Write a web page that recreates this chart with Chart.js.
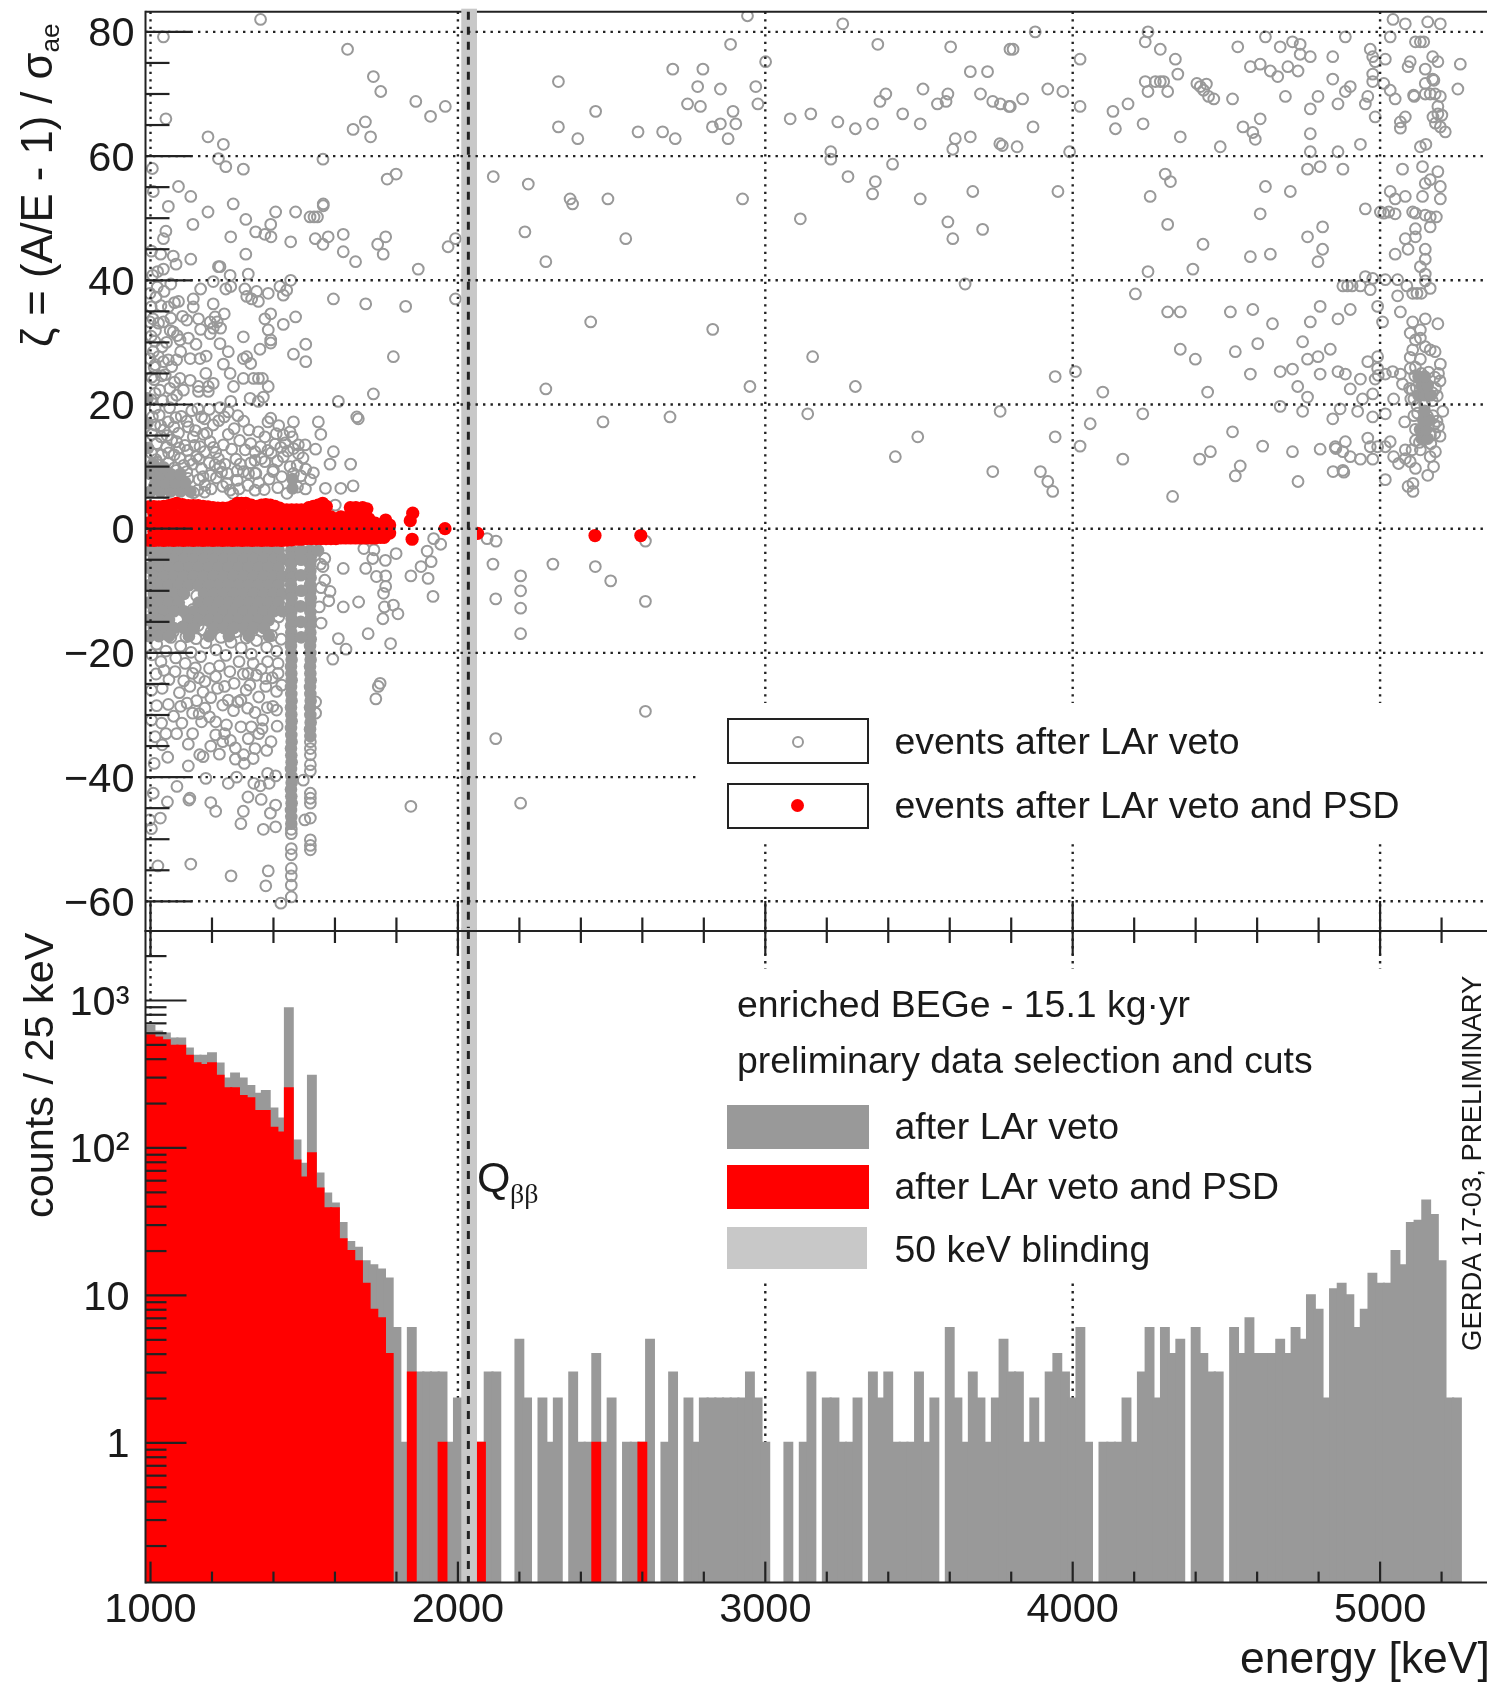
<!DOCTYPE html>
<html>
<head>
<meta charset="utf-8">
<title>GERDA A/E vs energy</title>
<script src="https://cdn.jsdelivr.net/npm/chart.js@4"></script>
<style>
  html, body { margin: 0; padding: 0; background: #fff; }
  #page { position: relative; width: 1487px; height: 1684px; overflow: hidden; font-family: "Liberation Sans", sans-serif; color: #1a1a1a; filter: blur(0.4px); }
  canvas { position: absolute; left: 0; display: block; }
  #topChart { top: 0; }
  #bottomChart { top: 925px; }
  .t { position: absolute; white-space: nowrap; line-height: 1; font-size: 37.4px; }
  .rot { transform-origin: 0 0; transform: rotate(-90deg); }
  .box { position: absolute; box-sizing: border-box; border: 2px solid #222; left: 727px; width: 142px; height: 46px; }
  .swatch { position: absolute; left: 727px; }
  .ring { position: absolute; box-sizing: border-box; width: 12px; height: 12px; border: 2px solid #999; border-radius: 50%; left: 792px; }
  .dot { position: absolute; width: 13px; height: 13px; background: #f00; border-radius: 50%; left: 791px; }
  sub { font-size: 0.6em; line-height: 0; vertical-align: -0.28em; }
</style>
</head>
<body>
<div id="page">
  <canvas id="topChart" width="1487" height="940"></canvas>
  <canvas id="bottomChart" width="1487" height="759"></canvas>

  <div class="t rot" style="left:15.5px;top:347px;font-size:43.6px">ζ = (A/E - 1) / σ<sub>ae</sub></div>
  <div class="t rot" style="left:19px;top:1218px;font-size:41.4px">counts / 25 keV</div>
  <div class="t" style="left:1240px;top:1636px;font-size:44.5px">energy [keV]</div>
  <div class="t rot" style="left:1458px;top:1351px;font-size:27.5px">GERDA 17-03, PRELIMINARY</div>

  <div class="box" style="top:718px"></div>
  <div class="ring" style="top:735.5px"></div>
  <div class="t" style="left:894.5px;top:722.5px">events after LAr veto</div>
  <div class="box" style="top:783px"></div>
  <div class="dot" style="top:799px"></div>
  <div class="t" style="left:894.5px;top:787px">events after LAr veto and PSD</div>

  <div class="t" style="left:737px;top:985.5px">enriched BEGe - 15.1 kg·yr</div>
  <div class="t" style="left:737px;top:1042px">preliminary data selection and cuts</div>
  <div class="swatch" style="top:1105px;width:142px;height:44px;background:#999"></div>
  <div class="t" style="left:894.5px;top:1107.5px">after LAr veto</div>
  <div class="swatch" style="top:1165px;width:142px;height:44px;background:#f00"></div>
  <div class="t" style="left:894.5px;top:1167.5px">after LAr veto and PSD</div>
  <div class="swatch" style="top:1227px;width:140px;height:42px;background:#c8c8c8"></div>
  <div class="t" style="left:894.5px;top:1230.5px">50 keV blinding</div>

  <div class="t" style="left:477px;top:1156px;font-size:43px">Q</div>
  <div class="t" style="left:510px;top:1180px;font-size:28px;font-family:'Liberation Serif',serif">ββ</div>
</div>

<script>
// axis ranges
const xMin = 983.7;
const xMax = 5347.8;
const zetaMin = -64.78;
const zetaMax = 83.25;
const countMin = 0.113;
const countMax = 2959;

// ticks
const energyMajor = [1000, 2000, 3000, 4000, 5000];
const energyMinor = [1200, 1400, 1600, 1800, 2200, 2400, 2600, 2800, 3200, 3400, 3600, 3800, 4200, 4400, 4600, 4800, 5200];
const zetaMajor = [80, 60, 40, 20, 0, -20, -40, -60];
const zetaMinor = [75, 70, 65, 55, 50, 45, 35, 30, 25, 15, 10, 5, -5, -10, -15, -25, -30, -35, -45, -50, -55];
const countMajor = [1, 10, 100, 1000];
const countMinor = [0.2, 0.3, 0.4, 0.5, 0.6, 0.7, 0.8, 0.9, 2, 3, 4, 5, 6, 7, 8, 9, 20, 30, 40, 50, 60, 70, 80, 90, 200, 300, 400, 500, 600, 700, 800, 900, 2000];
const countLabels = { 1: "1", 10: "10", 100: "10²", 1000: "10³" };

// blinded window and Q value
const blindLow = 2011;
const blindHigh = 2062;
const qValue = 2034;

// histogram, 25 keV bins, first bin centred on 1000 keV
const firstBin = 1000;
const binWidth = 25;
const countsLAr = [
  671, 615, 596, 551, 551, 471, 421, 421, 438, 373,
  295, 319, 295, 263, 233, 243, 185, 158, 885, 112,
  78, 308, 67, 49, 42, 31, 23, 21, 17, 16,
  15, 13, 6, 1, 6, 3, 3, 3, 3, 1,
  2, 0, 0, 1, 3, 3, 0, 0, 5, 2,
  0, 2, 1, 2, 0, 3, 1, 1, 4, 1,
  2, 0, 1, 1, 1, 5, 0, 1, 3, 0,
  2, 1, 2, 2, 2, 2, 2, 2, 3, 2,
  1, 0, 0, 1, 0, 1, 3, 0, 2, 2,
  1, 1, 2, 0, 3, 2, 3, 1, 1, 1,
  3, 1, 2, 0, 6, 2, 1, 3, 2, 1,
  2, 5, 3, 3, 1, 2, 1, 3, 4, 3,
  2, 6, 1, 0, 1, 1, 1, 2, 1, 3,
  6, 2, 6, 4, 5, 0, 6, 4, 3, 3,
  0, 6, 4, 7, 4, 4, 4, 5, 4, 6,
  5, 10, 8, 2, 11, 12, 10, 6, 8, 14,
  12, 12, 20, 16, 31, 32, 44, 35, 17, 2,
  2
];
const countsPSD = [
  580, 560, 537, 492, 492, 421, 375, 365, 375, 308,
  254, 254, 225, 217, 178, 178, 137, 127, 254, 82,
  63, 92, 53, 39, 39, 24, 20, 17, 12, 8,
  7, 4, 0, 0, 3, 0, 0, 0, 1, 0,
  0, 0, 0, 1, 0, 0, 0, 0, 0, 0,
  0, 0, 0, 0, 0, 0, 0, 0, 1, 0,
  0, 0, 0, 0, 1
];

// [energy, zeta] of the events after LAr veto
const vetoEvents = [
  [1358,82.0],[1042,79.2],[1641,77.2],[1725,72.8],[1749,70.4],[1863,68.8],[1959,68.0],[1911,66.4],[1699,65.5],[1659,64.3],
  [1716,63.1],[1050,66.0],[1187,63.1],[1237,61.9],[1221,59.6],[1245,58.3],[1302,57.9],[1561,59.5],[1799,57.1],[1770,56.3],
  [2115,56.7],[2229,55.5],[1091,55.1],[1009,54.3],[1131,53.5],[1058,51.9],[1269,52.3],[1187,51.0],[1407,51.0],[1472,51.0],
  [1562,52.3],[1562,52.0],[1519,50.2],[1532,50.2],[1543,50.2],[1310,49.8],[1138,49.0],[1391,49.0],[1342,47.8],[1372,47.4],
  [1392,47.0],[1050,47.9],[1042,46.7],[1261,47.0],[1456,46.2],[1536,46.7],[1578,47.0],[1561,45.8],[1627,47.4],[1627,44.6],
  [1667,43.0],[1739,45.8],[1765,47.0],[1757,44.2],[1992,46.7],[1968,45.4],[1871,41.8],[2218,47.8],[1310,44.2],[1033,44.2],
  [1074,43.9],[1083,42.6],[1131,43.4],[1042,41.8],[1226,42.2],[1221,42.2],[1318,41.0],[1259,40.8],[1204,39.8],[1066,39.4],
  [1163,38.6],[1245,38.6],[1261,39.0],[1307,38.6],[1456,40.0],[1421,39.0],[1443,38.4],[1432,37.6],[1383,37.9],[1345,38.2],
  [1313,37.4],[1329,37.0],[1351,36.6],[998,37.9],[1091,36.6],[1139,37.0],[1139,35.7],[1058,35.7],[1204,36.2],[1595,37.0],
  [1700,36.2],[1830,35.8],[1992,37.0],[1391,34.6],[1472,34.1],[1372,33.8],[1432,32.9],[1240,34.6],[1210,34.1],[1217,33.3],
  [1194,33.3],[1228,32.3],[1204,32.3],[998,33.3],[1042,33.3],[1026,33.1],[1118,33.6],[1156,33.8],[1163,32.1],[1194,31.4],
  [1074,31.7],[1302,30.9],[1383,32.0],[1391,30.4],[1391,29.9],[1505,29.7],[1465,28.1],[1505,26.9],[1790,27.7],[1096,30.4],
  [1123,30.7],[1148,29.7],[1226,29.8],[1253,28.5],[1356,28.9],[1098,28.5],[1009,28.5],[1026,27.7],[1042,26.9],[1058,27.2],
  [1015,26.4],[998,27.4],[1069,26.1],[1085,27.2],[1129,27.4],[1161,27.4],[1181,27.8],[1237,26.5],[1302,27.4],[1313,27.7],
  [1326,26.6],[1180,25.0],[1259,25.0],[1302,24.2],[1335,24.2],[1351,24.2],[1364,24.2],[1383,22.9],[1270,22.9],[1096,24.2],
  [1129,23.9],[1063,22.6],[1156,22.9],[1188,22.9],[1204,23.4],[1015,21.8],[1085,21.5],[1107,22.3],[1156,22.1],[1188,22.1],
  [1324,21.0],[1351,20.5],[1367,21.2],[1261,20.5],[1725,21.7],[1611,20.5],[1015,19.4],[1134,19.0],[1226,19.5],[1253,18.8],
  [1671,18.0],[1676,17.7],[1391,17.8],[1465,17.2],[1546,17.2],[1351,15.6],[1454,15.6],[1432,15.1],[1554,15.2],[1058,17.2],
  [1123,16.4],[1166,18.0],[1204,16.7],[1253,15.2],[1091,15.4],[1139,14.8],[1183,15.4],[1161,13.2],[1237,13.5],[1085,14.0],
  [1194,14.0],[1405,13.6],[1438,13.8],[1481,13.5],[1503,13.5],[1465,12.9],[1537,12.8],[1595,12.4],[1584,10.4],[1651,10.4],
  [1340,12.4],[1340,11.0],[1372,10.8],[1432,11.6],[1481,12.1],[1278,11.2],[1096,11.3],[1150,11.6],[1210,10.3],[1226,10.0],
  [1343,8.9],[1400,9.5],[1454,10.0],[1465,8.9],[1171,8.4],[1195,8.6],[1340,8.9],[1398,9.2],[1520,7.9],[1569,6.5],
  [1619,6.5],[1659,6.9],[1601,3.8],[1444,5.7],[1317,7.0],[1282,7.8],[1177,7.0],[1235,6.8],[1259,6.2],[1340,6.2],
  [1154,6.2],[1005,15.2],[1020,13.7],[1034,14.8],[1052,13.1],[1069,14.3],[1003,12.2],[1018,11.1],[1036,11.9],[1058,10.6],
  [1077,11.9],[1005,10.1],[1120,12.6],[1137,10.4],[1118,9.2],[1166,9.7],[1250,8.9],[1292,10.4],[1308,12.7],[1393,12.2],
  [1413,10.9],[1505,9.6],[1530,9.0],[1290,14.2],[1320,15.9],[1372,14.8],[1417,16.6],[1006,18.0],[1004,24.4],[1002,31.0],
  [1003,44.7],[1006,58.0],
  [2942,82.6],[3252,81.3],[2887,78.0],[3366,78.0],[3603,77.6],[3796,77.2],[3001,75.2],[2699,74.0],[2797,74.0],[3667,73.6],
  [3723,73.6],[2327,72.0],[2780,71.2],[2854,70.8],[2969,71.2],[3513,70.8],[3392,70.0],[3594,70.0],[3700,70.0],[3373,68.8],
  [3588,68.8],[3560,68.4],[3740,68.8],[3765,68.4],[3793,68.0],[2747,68.4],[2789,68.0],[2976,68.4],[2448,67.2],[2895,67.2],
  [3148,66.8],[3081,66.0],[3236,65.5],[3349,65.2],[3447,66.8],[3504,65.2],[3293,64.4],[2327,64.7],[2828,64.7],[2854,65.2],
  [2904,65.2],[2390,62.8],[2586,63.9],[2666,63.9],[2707,62.8],[2879,62.8],[3618,62.8],[3667,63.1],[3763,62.0],[3771,61.7],
  [3213,60.7],[3213,59.5],[3610,61.1],[3414,58.7],[3269,56.7],[3358,55.9],[3349,53.9],[3504,53.1],[3675,54.3],[2365,53.1],
  [2373,52.3],[2488,53.1],[2926,53.1],[3114,49.9],[3594,49.4],[3707,48.2],[3610,46.7],[2546,46.7],[2286,43.0],[3650,39.4],
  [2432,33.3],[2829,32.1],[3154,27.7],[2286,22.5],[2950,22.9],[3293,22.9],[2690,18.0],[2472,17.2],[3138,18.5],[3764,18.9],
  [3496,14.8],[3423,11.6],[3740,9.2],
  [3878,80.0],[4245,80.0],[3806,77.2],[4236,78.4],[4285,77.2],[4334,75.6],[4024,75.6],[4342,73.2],[4537,77.6],[4627,79.2],
  [4675,77.6],[4715,78.4],[4740,78.0],[4740,76.4],[4773,76.0],[4846,76.0],[4887,79.2],[4578,74.4],[4610,74.8],[4643,73.7],
  [4667,72.8],[4700,74.4],[4733,73.7],[4846,72.4],[4968,77.2],[4976,76.0],[4984,75.2],[5017,75.6],[4976,73.2],[4976,72.0],
  [5042,82.0],[5082,81.3],[5155,81.6],[5196,81.3],[5033,79.2],[5115,78.4],[5131,78.4],[5142,78.4],[5171,76.0],[5188,75.2],
  [5098,75.2],[5091,74.4],[5147,74.0],[5261,74.8],[5171,72.4],[5175,72.2],[5147,71.7],[5253,70.8],[5109,69.8],[5111,69.6],
  [5147,70.0],[5163,70.0],[5179,70.0],[5196,69.6],[5188,68.0],[5188,66.8],[5172,66.3],[5201,66.6],[5180,65.3],[5196,64.7],
  [5212,63.9],[5066,65.5],[5082,66.3],[5066,64.5],[4903,71.2],[4887,70.4],[4798,69.6],[4692,69.6],[4863,68.4],[4773,67.6],
  [4960,69.6],[4952,68.4],[4984,66.3],[5012,71.7],[5033,70.6],[5049,69.2],[4236,72.0],[4269,72.0],[4285,72.0],[4296,72.0],
  [4245,70.4],[4309,70.4],[3919,70.8],[3968,70.4],[3837,69.2],[3797,68.0],[4024,68.0],[4131,67.2],[4180,68.4],[4404,71.7],
  [4415,71.2],[4435,71.6],[4426,70.6],[4442,69.6],[4459,69.2],[4520,69.2],[3871,64.7],[4139,64.4],[4229,65.2],[4350,63.1],
  [4480,61.5],[4554,64.7],[4586,63.8],[4594,62.7],[4610,66.0],[4773,63.6],[4773,60.7],[4863,60.7],[4936,61.9],[5131,61.5],
  [5149,61.9],[3819,61.5],[3990,60.7],[4301,57.1],[4318,55.9],[3952,54.3],[4252,53.5],[4627,55.1],[4708,54.3],[4764,57.9],
  [4805,58.3],[4879,57.9],[5073,57.9],[5138,58.3],[5188,57.5],[5147,55.6],[5163,56.2],[5196,55.1],[5033,54.3],[5049,53.1],
  [5082,53.5],[5138,53.5],[5196,53.1],[4952,51.5],[5001,51.0],[5012,50.8],[5028,51.0],[5049,50.7],[5106,51.0],[5115,50.8],
  [5147,50.5],[5163,50.2],[5183,50.2],[4610,50.7],[4309,49.0],[4813,48.6],[4764,47.0],[5115,48.3],[5163,48.6],[5082,46.7],
  [5115,47.0],[4424,45.8],[4813,45.0],[5091,45.0],[5147,45.0],[5049,44.2],[4578,43.8],[4643,44.2],[4798,43.0],[5147,43.4],
  [5131,42.2],[5147,41.0],[4245,41.4],[4391,41.8],[4952,40.6],[4976,40.3],[5017,40.1],[5057,40.1],[5147,39.9],[5163,38.7],
  [4879,39.1],[4894,39.1],[4909,39.1],[4936,39.1],[4968,38.5],[5087,39.1],[5057,37.5],[5106,37.9],[5120,37.9],[5134,37.9],
  [4204,37.8],[4309,34.9],[4350,34.9],[4513,34.9],[4586,35.3],[4650,33.0],[4773,33.3],[4805,35.8],[4863,33.8],[4903,35.3],
  [4992,35.8],[5008,33.3],[5066,34.9],[5106,33.3],[5147,33.8],[5188,33.0],[5131,32.0],[5098,31.5],[5115,30.4],[5131,30.7],
  [4350,28.9],[4399,27.3],[4529,28.5],[4602,29.8],[4748,30.1],[4838,28.9],[4764,27.3],[4798,27.7],[4960,26.9],[4992,27.7],
  [5106,28.8],[5147,29.3],[5163,28.8],[5179,28.5],[5098,27.6],[5131,27.3],[5196,26.5],[4578,24.9],[4675,25.3],[4715,25.7],
  [4805,24.9],[4863,25.3],[4887,24.9],[4009,25.3],[3943,24.5],[4936,24.1],[4984,24.1],[4992,25.8],[4994,24.7],[5017,24.9],
  [5041,25.3],[5066,24.9],[4732,22.9],[4903,22.5],[5073,23.3],[4098,22.0],[4439,22.0],[4764,21.2],[4943,20.9],[4976,21.7],
  [5044,20.9],[5098,25.8],[5115,26.0],[5190,25.0],[5195,23.8],[5186,21.4],[5096,22.6],[5100,20.9],[4675,19.7],[4748,18.9],
  [4870,19.3],[4927,18.9],[4976,18.0],[5017,18.5],[4846,17.7],[4228,18.5],[4057,16.9],[5080,17.2],[5204,18.9],[4520,15.6],
  [3943,14.8],[4024,13.3],[4163,11.2],[4413,11.2],[4448,12.4],[4618,13.3],[4715,12.4],[4805,12.8],[4854,13.2],[4856,12.9],
  [4887,14.0],[4879,12.4],[4903,11.6],[4960,14.6],[4968,13.2],[4936,11.2],[4976,11.2],[4992,13.2],[5033,14.0],[5017,13.2],
  [5044,11.6],[5060,10.5],[5082,12.7],[5104,12.7],[5082,11.3],[5115,9.7],[5155,8.6],[5174,10.0],[5163,11.6],[5131,12.7],
  [5180,12.4],[5098,10.8],[4847,9.2],[4879,9.4],[4882,9.1],[4733,7.6],[4529,8.5],[4545,10.1],[5017,7.9],[3895,9.2],
  [3919,7.6],[3935,6.0],[4325,5.2],[5091,6.8],[5107,7.3],[5107,6.0],[5195,14.9],[5190,16.4],
  [5105,22.3],[5113,24.6],[5180,22.6],[5178,24.4],[5110,20.9],[5170,20.6],[5115,16.0],[5110,18.2],[5172,18.2],[5178,15.3],
  [5115,14.2],[5165,13.7],[5185,17.3],[5145,20.0],[5120,19.8],[5118,22.7],[5134,25.0],[5158,25.2],[5170,21.9],[5122,18.6],
  [5176,16.8],[5136,15.4],[5154,18.1],[5164,15.0],[5128,13.9],
  [2095,-1.6],[2124,-2.0],[2114,-5.7],[2204,-7.6],[2204,-10.0],[2204,-12.8],[2204,-16.9],[2123,-11.3],[2309,-5.7],[2447,-6.1],
  [2497,-8.4],[2610,-2.0],[2610,-11.7],[2610,-29.4],[2123,-33.8],[2204,-44.2],[1847,-44.7],[1921,-1.6],[1944,-2.5],[1900,-3.6],
  [1913,-5.3],[1880,-6.1],[1847,-7.6],[1903,-8.0],[1919,-10.9],[1799,-4.0],[1764,-5.1],[1727,-3.4],[1723,-4.8],[1694,-3.2],
  [1700,-6.4],[1735,-7.7],[1765,-7.6],[1765,-9.3],[1758,-10.4],[1790,-12.3],[1805,-13.7],[1761,-12.6],[1756,-14.5],[1627,-6.4],
  [1677,-11.8],[1627,-12.6],[1580,-11.6],[1567,-8.3],[1584,-10.1],[1561,-6.1],[1567,-4.8],[1555,-15.2],[1708,-16.9],[1611,-17.7],
  [1781,-18.5],[1636,-19.4],[1593,-21.0],[1747,-24.9],[1741,-25.4],[1733,-27.4],[1410,-29.2],[1398,-28.6],
  [1113,-21.7],[1137,-23.3],[1108,-24.5],[1038,-25.7],[1003,-26.0],[1177,-24.6],[1212,-23.8],[1241,-25.4],[1171,-26.3],[1218,-25.7],
  [1317,-23.3],[1323,-25.2],[1311,-26.0],[1375,-24.1],[1375,-25.4],[1410,-26.2],[1352,-27.1],[1294,-27.6],[1253,-27.6],[1235,-28.4],
  [1288,-21.4],[1334,-21.7],[1381,-21.4],[1415,-21.7],[1415,-23.3],[1119,-28.1],[1177,-28.9],[1075,-30.2],[1137,-29.7],[1102,-31.3],
  [1212,-31.1],[1166,-31.1],[1137,-33.0],[1247,-31.6],[1212,-33.2],[1241,-33.0],[1235,-34.3],[1294,-31.9],[1328,-31.9],[1365,-30.8],
  [1363,-32.2],[1352,-33.0],[1392,-34.3],[1340,-35.4],[1050,-33.0],[1038,-34.8],[1003,-30.8],[1015,-33.5],[1123,-34.7],[1160,-36.4],
  [1171,-36.7],[1276,-35.3],[1276,-37.1],[1303,-36.4],[1305,-37.8],[1334,-37.0],[1123,-38.2],[1381,-39.4],[1407,-39.8],[1253,-41.0],
  [1357,-41.4],[1386,-41.0],[1009,-42.6],[1055,-44.0],[1125,-43.7],[1128,-43.4],[1317,-43.2],[1360,-43.6],[1407,-44.5],[1212,-45.5],
  [1302,-45.5],[1390,-45.8],[1032,-46.6],[997,-46.9],[1294,-47.5],[1407,-48.0],[1367,-48.4],[1003,-48.3],[1131,-54.0],[1024,-54.3],
  [1262,-55.9],[1383,-55.1],[1375,-57.5],[1424,-60.3],
  [1520,-34.3],[1520,-35.4],[1520,-36.4],[1520,-38.0],[1520,-39.0],[1497,-40.5],[1520,-42.6],[1520,-43.4],[1520,-44.2],[1502,-46.9],
  [1520,-46.6],[1520,-50.1],[1520,-51.0],[1520,-51.7],[1537,-27.9],[1537,-29.7],
  [1458,-48.4],[1458,-49.1],[1458,-51.5],[1458,-52.5],[1458,-54.7],[1458,-55.9],[1458,-57.4],[1458,-59.3],
  [1005,-20.3],[1020,-18.6],[1034,-21.4],[1050,-19.7],[1066,-17.5],[1082,-20.8],[1098,-18.9],[1115,-17.4],[1132,-19.9],[1148,-17.7],
  [1163,-20.6],[1180,-18.4],[1197,-16.6],[1213,-19.5],[1229,-17.5],[1245,-20.4],[1262,-18.3],[1278,-16.6],[1295,-19.2],[1311,-17.6],
  [1328,-20.2],[1345,-18.0],[1361,-16.5],[1378,-19.1],[1394,-17.2],[1410,-19.7],[1425,-17.8],[1088,-14.6],[1105,-15.8],[1122,-14.2],
  [1138,-13.0],[1155,-15.6],[1172,-16.3],[1150,-10.8],[1092,-12.6],[1110,-9.3],[1188,-14.1],[1212,-15.6],[1230,-14.4],[1354,-15.1],
  [1400,-15.6],[1417,-14.2],[1074,-16.6],[1040,-16.4],[1553,-5.7],[1555,-9.5],[1549,-12.6],
  [1012,6.8],[1031,8.9],[1048,5.9],[1066,7.7],[1084,9.4],[1101,6.4],[1122,8.1],[1140,5.8],[1158,7.9],[1176,5.9],
  [1197,6.4],[1214,8.2],[1231,9.1],[1248,7.3],[1268,5.7],[1288,6.4],[1302,9.2],[1319,8.9],[1352,7.4],[1370,6.3],
  [1386,8.0],[1414,6.6],[1427,8.4],[1478,6.7],[1489,8.5],[1504,6.4],[1014,16.7],[1028,18.3],[1044,15.9],[1062,19.5],
  [1076,16.4],[1100,18.1],[1112,13.4],[1146,15.8],[1154,19.3],[1172,15.2],[1212,12.3],[1222,17.4],[1272,16.1],[1284,18.2],
  [1303,17.3],[1326,13.7],[1358,13.2],[1382,17.2],[1409,15.3],[1012,24.0],[1030,22.3],[1048,24.8],[1002,35.7],[1016,31.9],
  [1018,37.3],[1034,35.9],[1052,30.0],[1007,40.8],[1023,41.4],[1066,33.9],
  [1003,9.1],[1022,10.7],[1041,8.6],[1059,12.2],[1078,9.8],[1094,13.0],[1108,10.2],[1128,11.0],[1143,13.4],[1158,11.2],
  [1176,12.4],[1191,10.6],[1205,13.1],[1221,11.3],[1242,10.4],[1264,12.8],[1282,9.3],[1326,10.6],[1361,11.3],[1382,12.6],
  [1424,13.1],[1446,12.5],[1461,14.8],[1477,10.2],[1496,11.4],[1033,16.6],[1054,15.0],[1082,17.9],[1118,17.3],[1176,17.7],
  [1191,19.2],[1240,18.0],[1012,26.0],[1038,29.3],[1064,31.9],[1008,33.8],[1022,38.9],[1044,38.2],[1078,36.4],[1036,24.6],
  [1078,23.6],[1014,30.2],[1087,31.1],[1104,34.2],[1002,20.8],[1040,20.6],[1070,20.8],
  [1044,-22.8],[1060,-24.3],[1080,-23.0],[1094,-26.4],[1128,-25.4],[1146,-22.4],[1158,-24.0],[1192,-22.5],[1196,-27.2],[1224,-22.1],
  [1258,-23.0],[1272,-24.9],[1302,-23.4],[1345,-23.6],[1360,-22.6],[1396,-24.0],[1427,-25.2],[1018,-23.4],[1020,-28.5],[1058,-28.3],
  [1098,-28.6],[1150,-27.7],[1158,-29.8],[1192,-30.3],[1270,-29.3],[1284,-27.9],[1316,-28.9],[1340,-29.6],[1380,-28.8],[1036,-31.3],
  [1056,-36.8],[1085,-33.0],[1196,-35.0],[1224,-36.3],[1260,-34.1],[1318,-33.8],[1378,-35.7],[1412,-31.8],[1012,-37.8],[1180,-40.2],
  [1280,-40.0],[1336,-41.0],[1086,-41.5],[1196,-44.1]
];

// spots where the rings of the veto events merge to solid grey
const vetoMerged = [
  [995,-3.5],[1027,-3.5],[1060,-3.5],[1092,-3.5],[1125,-3.5],[1157,-3.5],[1190,-3.5],[1222,-3.5],[1255,-3.5],[1287,-3.5],[1320,-3.5],[1352,-3.5],[1385,-3.5],[1417,-3.5],
  [1011,-4.9],[1044,-4.9],[1076,-4.9],[1109,-4.9],[1141,-4.9],[1174,-4.9],[1206,-4.9],[1239,-4.9],[1271,-4.9],[1304,-4.9],[1336,-4.9],[1369,-4.9],[1401,-4.9],[1430,-4.9],
  [995,-6.3],[1027,-6.3],[1060,-6.3],[1092,-6.3],[1125,-6.3],[1157,-6.3],[1190,-6.3],[1222,-6.3],[1255,-6.3],[1287,-6.3],[1320,-6.3],[1352,-6.3],[1385,-6.3],[1417,-6.3],
  [1011,-7.7],[1044,-7.7],[1076,-7.7],[1109,-7.7],[1141,-7.7],[1174,-7.7],[1206,-7.7],[1239,-7.7],[1271,-7.7],[1304,-7.7],[1336,-7.7],[1369,-7.7],[1401,-7.7],[1430,-7.7],
  [995,-9.1],[1027,-9.1],[1060,-9.1],[1092,-9.1],[1125,-9.1],[1157,-9.1],[1190,-9.1],[1222,-9.1],[1255,-9.1],[1287,-9.1],[1320,-9.1],[1352,-9.1],[1385,-9.1],[1417,-9.1],
  [1011,-10.5],[1044,-10.5],[1076,-10.5],[1109,-10.5],[1174,-10.5],[1206,-10.5],[1239,-10.5],[1271,-10.5],[1304,-10.5],[1336,-10.5],[1369,-10.5],[1401,-10.5],[1430,-10.5],
  [995,-11.9],[1027,-11.9],[1060,-11.9],[1092,-11.9],[1157,-11.9],[1190,-11.9],[1222,-11.9],[1255,-11.9],[1287,-11.9],[1320,-11.9],[1352,-11.9],[1385,-11.9],[1417,-11.9],
  [1011,-13.3],[1044,-13.3],[1076,-13.3],[1109,-13.3],[1141,-13.3],[1174,-13.3],[1206,-13.3],[1239,-13.3],[1271,-13.3],[1304,-13.3],[1336,-13.3],[1369,-13.3],[1401,-13.3],[1430,-13.3],
  [995,-14.7],[1027,-14.7],[1060,-14.7],[1125,-14.7],[1157,-14.7],[1190,-14.7],[1222,-14.7],[1255,-14.7],[1287,-14.7],[1320,-14.7],[1352,-14.7],[1385,-14.7],
  [1011,-16.0],[1044,-16.0],[1076,-16.0],[1109,-16.0],[1141,-16.0],[1206,-16.0],[1239,-16.0],[1271,-16.0],[1304,-16.0],[1336,-16.0],[1369,-16.0],
  [995,-17.3],[1027,-17.3],[1060,-17.3],[1125,-17.3],[1190,-17.3],[1255,-17.3],[1320,-17.3],[1385,-17.3],
  [1000,6.0],[1032,6.0],[1065,6.0],[1097,6.0],[1130,6.0],[1016,7.4],[1048,7.4],[1081,7.4],[1113,7.4],[1000,8.8],[1032,8.8],[1065,8.8],[1097,8.8],
  [1462,6.5],[1462,8.0],[1009,10.5],[1042,9.9],[992,13.0],[990,17.0],[990,21.0],
  [1458,-3.5],[1459,-4.6],[1457,-5.7],[1458,-6.8],[1459,-7.9],[1457,-9.0],[1458,-10.1],[1459,-11.2],[1457,-12.3],[1458,-13.4],[1459,-14.5],[1457,-15.6],[1458,-16.7],[1459,-17.8],[1457,-18.9],
  [1458,-20.0],[1459,-21.1],[1457,-22.2],[1458,-23.3],[1459,-24.4],[1457,-25.5],[1458,-26.6],[1459,-27.7],[1457,-28.8],[1458,-29.9],[1459,-31.0],[1457,-32.1],[1458,-33.2],[1459,-34.3],
  [1457,-35.4],[1458,-36.5],[1459,-37.6],[1457,-38.7],[1458,-39.8],[1459,-40.9],[1457,-42.0],[1458,-43.1],[1459,-44.2],[1457,-45.3],[1458,-46.4],[1458,-47.5],
  [1520,-3.5],[1521,-4.6],[1519,-5.7],[1520,-6.8],[1521,-7.9],[1519,-9.0],[1520,-10.1],[1521,-11.2],[1519,-12.3],[1520,-13.4],[1521,-14.5],[1519,-15.6],[1520,-16.7],[1521,-17.8],[1519,-18.9],
  [1520,-20.0],[1521,-21.1],[1519,-22.2],[1520,-23.3],[1521,-24.4],[1519,-25.5],[1520,-26.6],[1521,-27.7],[1519,-28.8],[1520,-30.0],[1521,-31.2],[1519,-32.3],[1520,-33.4],
  [1490,-3.5],[1490,-5.0],[1489,-7.5],[1490,-10.0],[1488,-12.5],[1489,-15.0],[1490,-17.5],[1545,-3.5],
  [5125,21.5],[5145,21.5],[5165,21.5],[5135,23.0],[5155,23.0],[5125,24.5],[5145,24.5],
  [5135,14.5],[5155,14.5],[5130,16.0],[5150,16.0],[5140,17.5],[5160,17.5],[5145,19.0]
];

// [energy, zeta] of the events after LAr veto and PSD
const psdEvents = [
  [995,-1.85],[1011,-1.9],[1027,-1.85],[1043,-1.9],[1059,-1.85],[1075,-1.9],[1091,-1.85],[1107,-1.9],[1123,-1.85],[1139,-1.9],[1155,-1.85],[1171,-1.9],[1187,-1.85],[1203,-1.9],[1219,-1.85],[1235,-1.9],[1251,-1.85],[1267,-1.9],[1283,-1.85],[1299,-1.9],[1315,-1.85],[1331,-1.9],[1347,-1.85],[1363,-1.9],[1379,-1.85],[1395,-1.9],[1411,-1.85],[1427,-1.9],[1443,-1.85],
  [1459,-1.8],[1475,-1.7],[1491,-1.7],[1507,-1.6],[1523,-1.6],[1539,-1.6],[1555,-1.6],[1571,-1.6],[1587,-1.6],[1603,-1.6],[1619,-1.5],[1635,-1.5],[1651,-1.5],[1667,-1.5],[1683,-1.5],[1699,-1.5],[1715,-1.5],[1731,-1.5],[1748,-1.4],[1760,-1.4],
  [1011,-0.45],[1043,-0.45],[1075,-0.45],[1107,-0.45],[1139,-0.45],[1171,-0.45],[1203,-0.45],[1235,-0.45],[1267,-0.45],[1299,-0.45],[1331,-0.45],[1363,-0.45],[1395,-0.45],[1427,-0.45],[1459,-0.45],[1491,-0.45],[1523,-0.45],[1555,-0.45],[1587,-0.45],[1619,-0.45],[1651,-0.45],[1683,-0.45],[1715,-0.45],[1747,-0.45],[1778,-0.7],
  [995,0.95],[1027,0.95],[1059,0.95],[1091,0.95],[1123,0.95],[1155,0.95],[1187,0.95],[1219,0.95],[1251,0.95],[1283,0.95],[1315,0.95],[1347,0.95],[1379,0.95],[1411,0.95],[1443,0.95],[1475,0.95],[1507,0.95],[1539,0.95],[1571,0.95],[1603,0.95],[1635,0.95],[1667,0.95],[1699,0.95],[1731,0.9],[1760,0.9],[1778,0.6],
  [1011,2.35],[1043,2.35],[1075,2.35],[1107,2.35],[1139,2.35],[1171,2.35],[1203,2.35],[1235,2.35],[1267,2.35],[1299,2.35],[1331,2.35],[1363,2.35],[1395,2.35],[1427,2.35],[1459,2.35],[1491,2.35],[1523,2.35],[1555,2.35],[1587,1.9],[1619,1.9],[1650,2.35],[1683,2.35],[1710,1.6],[1765,1.4],
  [995,3.5],[1011,3.55],[1027,3.5],[1043,3.6],[1059,3.7],[1072,3.9],[1085,4.1],[1104,3.9],[1123,3.7],[1139,3.7],[1155,3.7],[1171,3.6],[1187,3.5],[1203,3.4],[1219,3.3],[1235,3.3],[1251,3.3],[1267,3.6],[1283,4.1],[1296,4.1],[1310,4.1],[1328,3.8],[1347,3.6],[1361,3.8],[1375,3.9],[1390,3.8],[1405,3.6],[1420,3.3],[1443,3.05],[1459,3.05],[1475,3.05],[1491,3.05],[1515,3.4],[1530,3.6],[1545,3.8],[1560,4.1],[1572,3.6],[1650,3.4],[1668,3.4],[1690,3.4],[1704,3.2],
  [1845,1.3],[1853,2.5],[1851,-1.7],[1958,0.0],[2064,-0.75],[2446,-1.1],[2595,-1.1]
];

const barData = (counts) =>
  countsLAr.map((_, i) => ({
    x: firstBin + binWidth * i,
    y: counts[i] > 0 ? counts[i] : null,
  }));

const pointData = (pairs) => pairs.map((p) => ({ x: p[0], y: p[1] }));

const lineColor = "#222";

function hLine(ctx, x1, x2, y, width) {
  ctx.lineWidth = width;
  ctx.beginPath();
  ctx.moveTo(x1, y);
  ctx.lineTo(x2, y);
  ctx.stroke();
}

function vLine(ctx, x, y1, y2, width) {
  ctx.lineWidth = width;
  ctx.beginPath();
  ctx.moveTo(x, y1);
  ctx.lineTo(x, y2);
  ctx.stroke();
}

function drawBlinding(chart) {
  const { ctx, chartArea, scales } = chart;
  const x1 = scales.x.getPixelForValue(blindLow);
  const x2 = scales.x.getPixelForValue(blindHigh);
  ctx.save();
  ctx.fillStyle = "#c8c8c8";
  ctx.fillRect(x1, chartArea.top - 3, x2 - x1, chartArea.bottom - chartArea.top + 3);
  ctx.restore();
}

function drawQ(chart) {
  const { ctx, chartArea, scales } = chart;
  ctx.save();
  ctx.strokeStyle = lineColor;
  ctx.setLineDash([8, 7]);
  vLine(ctx, scales.x.getPixelForValue(qValue), chartArea.top, chartArea.bottom, 3);
  ctx.restore();
}

function drawVerticalDots(chart) {
  const { ctx, chartArea, scales } = chart;
  ctx.save();
  ctx.strokeStyle = lineColor;
  ctx.setLineDash([2.4, 5.1]);
  energyMajor.forEach((e) => {
    vLine(ctx, scales.x.getPixelForValue(e), chartArea.top, chartArea.bottom, 2.4);
  });
  ctx.restore();
}

function drawMask(chart, yTop, yBottom) {
  const { ctx, chartArea } = chart;
  const top = yTop - chart.canvas.offsetTop;
  ctx.save();
  ctx.fillStyle = "#fff";
  ctx.fillRect(699, top, chartArea.right - 699, yBottom - yTop);
  ctx.restore();
}

function drawFrameLeft(chart) {
  const { ctx, chartArea } = chart;
  ctx.strokeStyle = lineColor;
  vLine(ctx, chartArea.left, chartArea.top - 1, chartArea.bottom + 1, 2);
}

// tick labels may hang over the plot area, the frame stays where it was read
function fixAxisBox(scale, key, size) {
  scale[key] = size;
  scale.paddingTop = 0;
  scale.paddingBottom = 0;
  scale.paddingLeft = 0;
  scale.paddingRight = 0;
}

// the upper panel: grid on top of the events, ticks pointing inwards
const topPanel = {
  id: "topPanel",
  afterDatasetsDraw(chart) {
    const { ctx, chartArea, scales } = chart;
    ctx.save();
    ctx.strokeStyle = lineColor;
    hLine(ctx, chartArea.left, chartArea.right, chartArea.top, 2);
    ctx.restore();

    drawBlinding(chart);
    drawVerticalDots(chart);

    ctx.save();
    ctx.strokeStyle = lineColor;
    ctx.setLineDash([2.4, 5.1]);
    zetaMajor.forEach((z) => {
      hLine(ctx, chartArea.left, chartArea.right, scales.y.getPixelForValue(z), 2.4);
    });
    ctx.restore();

    drawMask(chart, 703, 841);
    drawQ(chart);

    ctx.save();
    ctx.strokeStyle = lineColor;
    zetaMajor.forEach((z) => {
      const y = scales.y.getPixelForValue(z);
      hLine(ctx, chartArea.left, chartArea.left + 46, y, 2.2);
    });
    zetaMinor.forEach((z) => {
      const y = scales.y.getPixelForValue(z);
      hLine(ctx, chartArea.left, chartArea.left + 24, y, 2.2);
    });
    energyMajor.forEach((e) => {
      const x = scales.x.getPixelForValue(e);
      vLine(ctx, x, chartArea.bottom - 30, chartArea.bottom, 2.2);
    });
    energyMinor.forEach((e) => {
      const x = scales.x.getPixelForValue(e);
      vLine(ctx, x, chartArea.bottom - 13.5, chartArea.bottom, 2.2);
    });
    drawFrameLeft(chart);
    hLine(ctx, chartArea.left, chartArea.right, chartArea.bottom, 2);
    ctx.restore();
  },
};

// the lower panel: vertical grid under the histogram, ticks over it
const bottomPanel = {
  id: "bottomPanel",
  beforeDatasetsDraw(chart) {
    drawVerticalDots(chart);
    drawMask(chart, 969, 1281);
  },
  afterDatasetsDraw(chart) {
    const { ctx, chartArea, scales } = chart;
    drawBlinding(chart);
    drawQ(chart);

    ctx.save();
    ctx.strokeStyle = lineColor;
    countMajor.forEach((c) => {
      const y = scales.y.getPixelForValue(c);
      hLine(ctx, chartArea.left, chartArea.left + 41, y, 2.2);
    });
    countMinor.forEach((c) => {
      const y = scales.y.getPixelForValue(c);
      hLine(ctx, chartArea.left, chartArea.left + 21, y, 2.2);
    });
    energyMajor.forEach((e) => {
      const x = scales.x.getPixelForValue(e);
      vLine(ctx, x, chartArea.top, chartArea.top + 24, 2.2);
      vLine(ctx, x, chartArea.bottom - 21, chartArea.bottom, 2.2);
    });
    energyMinor.forEach((e) => {
      const x = scales.x.getPixelForValue(e);
      vLine(ctx, x, chartArea.top, chartArea.top + 12, 2.2);
      vLine(ctx, x, chartArea.bottom - 11, chartArea.bottom, 2.2);
    });
    drawFrameLeft(chart);
    hLine(ctx, chartArea.left, chartArea.right, chartArea.top, 2);
    hLine(ctx, chartArea.left, chartArea.right, chartArea.bottom, 2);
    ctx.restore();
  },
};

const tickFont = { family: "'Liberation Sans'", size: 41.5 };

new Chart(document.getElementById("topChart"), {
  type: "scatter",
  data: {
    datasets: [
      {
        label: "events after LAr veto and PSD",
        data: pointData(psdEvents),
        pointRadius: 6.6,
        pointBorderWidth: 0,
        pointBackgroundColor: "#f00",
      },
      {
        label: "merged",
        data: pointData(vetoMerged),
        pointRadius: 6.3,
        pointBorderWidth: 0,
        pointBackgroundColor: "#999",
      },
      {
        label: "events after LAr veto",
        data: pointData(vetoEvents),
        pointRadius: 5.4,
        pointBorderWidth: 2,
        pointBorderColor: "#999",
        pointBackgroundColor: "rgba(0,0,0,0)",
      },
    ],
  },
  plugins: [topPanel],
  options: {
    responsive: false,
    animation: false,
    events: [],
    layout: { autoPadding: false, padding: { top: 11.7, bottom: 9, left: 0, right: 0 } },
    plugins: { legend: { display: false }, tooltip: { enabled: false } },
    scales: {
      x: { type: "linear", display: false, min: xMin, max: xMax },
      y: {
        type: "linear",
        min: zetaMin,
        max: zetaMax,
        afterFit(scale) {
          fixAxisBox(scale, "width", 145.5);
        },
        afterBuildTicks(scale) {
          scale.ticks = zetaMajor.map((v) => ({ value: v }));
        },
        grid: { display: false, drawTicks: false },
        border: { display: false },
        ticks: {
          font: tickFont,
          color: "#1a1a1a",
          padding: 11,
          labelOffset: 3,
          autoSkip: false,
          callback: (v) => String(v).replace("-", "−"),
        },
      },
    },
  },
});

new Chart(document.getElementById("bottomChart"), {
  type: "bar",
  data: {
    datasets: [
      {
        label: "after LAr veto and PSD",
        data: barData(countsPSD),
        backgroundColor: "#f00",
        grouped: false,
        barPercentage: 1,
        categoryPercentage: 1,
        inflateAmount: 1.1,
      },
      {
        label: "after LAr veto",
        data: barData(countsLAr),
        backgroundColor: "#999",
        grouped: false,
        barPercentage: 1,
        categoryPercentage: 1,
        inflateAmount: 1.1,
      },
    ],
  },
  plugins: [bottomPanel],
  options: {
    responsive: false,
    animation: false,
    events: [],
    layout: { autoPadding: false, padding: { top: 6, bottom: 0, left: 0, right: 0 } },
    plugins: { legend: { display: false }, tooltip: { enabled: false } },
    scales: {
      x: {
        type: "linear",
        offset: false,
        min: xMin,
        max: xMax,
        afterFit(scale) {
          fixAxisBox(scale, "height", 101.4);
        },
        afterBuildTicks(scale) {
          scale.ticks = energyMajor.map((v) => ({ value: v }));
        },
        grid: { display: false, drawTicks: false, offset: false },
        border: { display: false },
        ticks: {
          font: tickFont,
          color: "#1a1a1a",
          padding: 3,
          autoSkip: false,
          maxRotation: 0,
          callback: (v) => String(v),
        },
      },
      y: {
        type: "logarithmic",
        min: countMin,
        max: countMax,
        afterFit(scale) {
          fixAxisBox(scale, "width", 145.5);
        },
        afterBuildTicks(scale) {
          scale.ticks = countMajor.map((v) => ({ value: v }));
        },
        grid: { display: false, drawTicks: false },
        border: { display: false },
        ticks: {
          font: tickFont,
          color: "#1a1a1a",
          padding: 16,
          labelOffset: 3,
          autoSkip: false,
          callback: (v) => countLabels[v],
        },
      },
    },
  },
});
</script>
</body>
</html>
